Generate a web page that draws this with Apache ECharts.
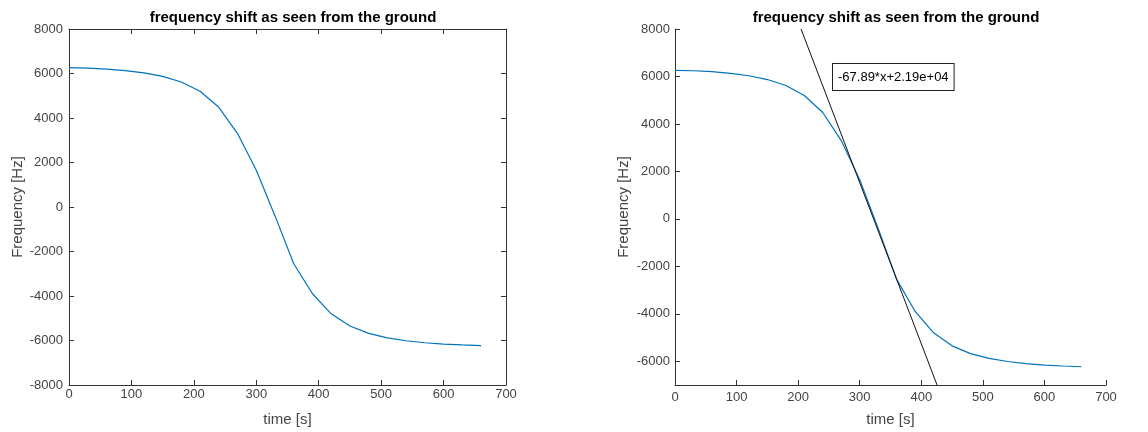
<!DOCTYPE html>
<html>
<head>
    <meta charset="utf-8">
    <script type="text/javascript" src="https://cdn.jsdelivr.net/npm/echarts@6/dist/echarts.min.js"></script>
    <title></title>
    <style>
        html, body { margin: 0; padding: 0; background: #fff; }
        #main { width: 1148px; height: 432px; }
    </style>
</head>
<body>
<div id="main"></div>
</body>
</html>

<script type="text/javascript">
    // time samples [s] and measured doppler shift [Hz]
    var timeS = [0, 30, 60, 90, 120, 150, 180, 210, 240, 270, 300, 330, 360,
        390, 420, 450, 480, 510, 540, 570, 600, 630, 660];
    var freqHz = [6260, 6240, 6200, 6130, 6030, 5870, 5620, 5200, 4480, 3300, 1650, -400, -2550,
        -3900, -4800, -5350, -5680, -5880, -6010, -6100, -6160, -6200, -6230];

    // linear fit through the middle, clipped to the right axes
    var fitX = [204.7, 425.6];
    var fitY = [8000, -7000];
    var fitLabel = '-67.89*x+2.19e+04';

    var titleText = 'frequency shift as seen from the ground';
    var rightYTicks = [-6000, -4000, -2000, 0, 2000, 4000, 6000, 8000];

    var font = '"Liberation Sans", Arial, Helvetica, sans-serif';
    var axisCol = '#333333';
    var labelCol = '#444444';

    function pairs(xs, ys) {
        var out = [];
        for (var i = 0; i < xs.length; i++) out.push([xs[i], ys[i]]);
        return out;
    }

    function plain(v) { return String(v); }

    function baseAxis(extra) {
        var a = {
            type: 'value',
            axisLine: {show: true, onZero: false, lineStyle: {color: axisCol, width: 1}},
            axisTick: {show: true, inside: true, length: 5, lineStyle: {color: axisCol}},
            axisLabel: {show: true, color: labelCol, fontSize: 13, fontFamily: font, margin: 6,
                formatter: plain},
            splitLine: {show: false},
            nameTextStyle: {color: labelCol, fontSize: 15, fontFamily: font}
        };
        for (var k in extra) a[k] = extra[k];
        return a;
    }

    var titleStyle = {fontSize: 15, fontWeight: 'bold', color: '#000', fontFamily: font};

    var myChart = echarts.init(document.getElementById('main'), null, {renderer: 'canvas'});
    var option = {
        animation: false,
        title: [
            {text: titleText, left: 288, top: 5, textAlign: 'center', textStyle: titleStyle},
            {text: titleText, left: 891, top: 5, textAlign: 'center', textStyle: titleStyle}
        ],
        grid: [
            {left: 69, right: 642, top: 29, bottom: 47},
            {left: 675, right: 42, top: 29, bottom: 47}
        ],
        xAxis: [
            baseAxis({gridIndex: 0, min: 0, max: 700, interval: 100, name: 'time [s]',
                nameLocation: 'middle', nameGap: 27,
                axisLabel: {color: labelCol, fontSize: 13, fontFamily: font, margin: 3, formatter: plain}}),
            baseAxis({gridIndex: 0, position: 'top', min: 0, max: 700, interval: 100,
                axisLabel: {show: false}}),
            baseAxis({gridIndex: 1, min: 0, max: 700, interval: 100, name: 'time [s]',
                nameLocation: 'middle', nameGap: 27})
        ],
        yAxis: [
            baseAxis({gridIndex: 0, min: -8000, max: 8000, interval: 2000, name: 'Frequency [Hz]',
                nameLocation: 'middle', nameGap: 44}),
            baseAxis({gridIndex: 0, position: 'right', min: -8000, max: 8000, interval: 2000,
                axisLabel: {show: false}}),
            baseAxis({gridIndex: 1, min: -7000, max: 8000, name: 'Frequency [Hz]',
                nameLocation: 'middle', nameGap: 44,
                axisTick: {show: true, inside: true, length: 5, lineStyle: {color: axisCol},
                    customValues: rightYTicks},
                axisLabel: {show: true, color: labelCol, fontSize: 13, fontFamily: font, margin: 5,
                    formatter: plain, customValues: rightYTicks}})
        ],
        series: [{
            type: 'line', xAxisIndex: 0, yAxisIndex: 0,
            data: pairs(timeS, freqHz),
            showSymbol: false, lineStyle: {color: '#0072BD', width: 1.2}
        }, {
            type: 'line', xAxisIndex: 2, yAxisIndex: 2,
            data: pairs(timeS, freqHz),
            showSymbol: false, lineStyle: {color: '#0072BD', width: 1.2}
        }, {
            type: 'line', xAxisIndex: 2, yAxisIndex: 2,
            data: pairs(fitX, fitY),
            showSymbol: false, lineStyle: {color: '#111', width: 1}, z: 3
        }],
        graphic: [{
            type: 'text', left: 832, top: 63,
            style: {
                text: fitLabel, fill: '#000', font: '13px ' + font,
                backgroundColor: '#fff', borderColor: '#222', borderWidth: 1,
                padding: [7, 5, 6, 5]
            }
        }]
    };
    myChart.setOption(option);
</script>
